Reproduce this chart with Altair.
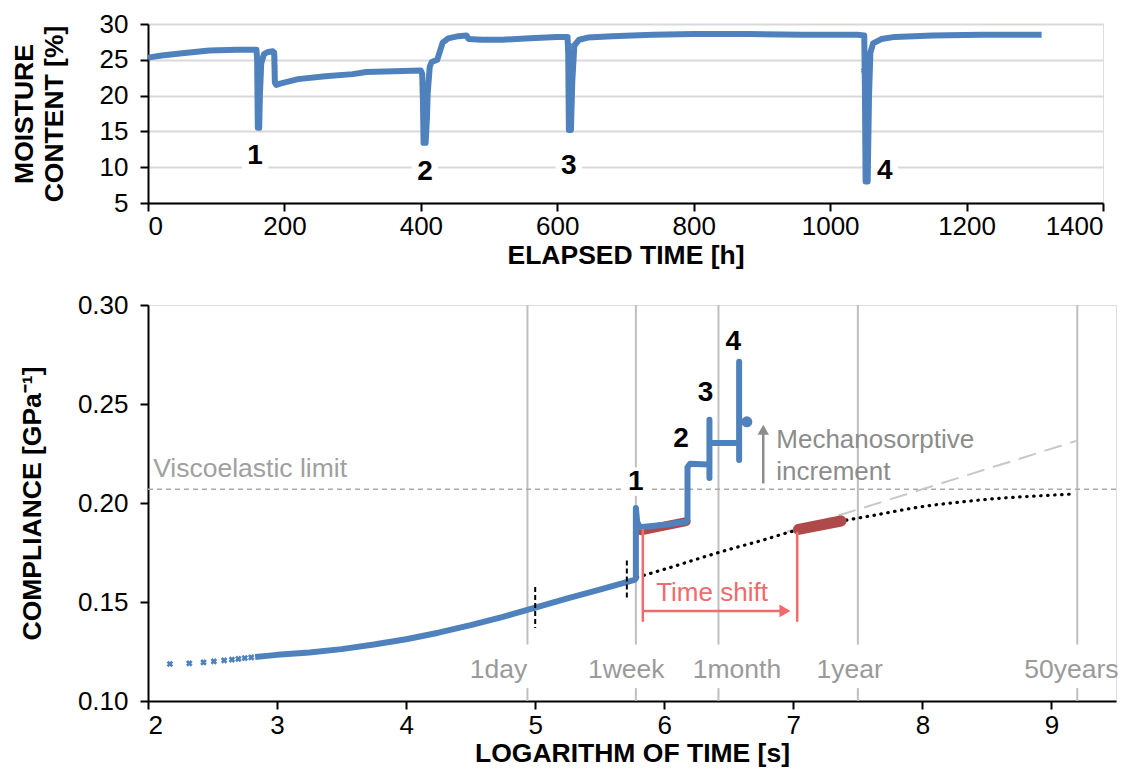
import altair as alt
import pandas as pd

FONT = "Liberation Sans"
BLUE = "#4F81BD"
RED = "#B0494A"
SALMON = "#F06B6B"
GRIDLINE = "#BFBFBF"
GRAYTEXT = "#9A9A9A"
ANNOT = "#8C8C8C"

# ---------------- top panel: moisture content ----------------
mc_hours = [0, 20, 50, 90, 130, 159, 160, 161, 163, 164, 166, 170, 176, 183, 185, 186, 188, 195,
            220, 260, 300, 320, 360, 400, 402, 403, 404, 407, 409, 410, 413, 416, 424, 428, 432,
            440, 455, 467, 470, 490, 520, 560, 600, 615, 616, 617, 620, 622, 625, 632, 645, 680,
            740, 800, 880, 960, 1040, 1050, 1051, 1052, 1055, 1057, 1059, 1063, 1075, 1095, 1150,
            1220, 1310]
mc_values = [25.3, 25.6, 25.9, 26.3, 26.4, 26.4, 25.0, 15.5, 15.5, 20.0, 24.5, 25.8, 26.1, 26.2,
             26.0, 21.8, 21.5, 21.7, 22.3, 22.7, 23.0, 23.3, 23.4, 23.5, 23.0, 19.5, 13.4, 13.4,
             17.0, 20.3, 24.0, 24.7, 25.0, 26.2, 27.4, 28.0, 28.3, 28.4, 27.9, 27.8, 27.8, 28.0,
             28.2, 28.2, 26.0, 15.2, 15.2, 22.0, 27.0, 27.8, 28.1, 28.3, 28.5, 28.6, 28.6, 28.5,
             28.5, 28.4, 20.5, 8.0, 8.0, 20.0, 26.0, 27.3, 27.9, 28.2, 28.4, 28.5, 28.5]
mc_cross_hours = [160, 186, 186, 186, 402, 402, 402, 408, 618, 618, 1049]
mc_cross_values = [25.3, 25.2, 24.0, 23.2, 22.8, 21.6, 20.6, 17.5, 27.0, 26.0, 23.5]
top_label_hours = [157, 406, 617, 1080]
top_label_values = [11.6, 9.3, 10.2, 9.5]
top_label_text = ["1", "2", "3", "4"]
hour_ticks = [0, 200, 400, 600, 800, 1000, 1200, 1400]
moist_ticks = [5, 10, 15, 20, 25, 30]

# ---------------- bottom panel: compliance ----------------
logt_cross = [2.17, 2.32, 2.43, 2.51, 2.59, 2.65, 2.70, 2.75, 2.80]
comp_cross = [0.1187, 0.1190, 0.1195, 0.1200, 0.1205, 0.1209, 0.1213, 0.1217, 0.1220]
logt_curve = [2.83, 3.0, 3.25, 3.5, 3.75, 4.0, 4.25, 4.5, 4.75, 5.0, 5.25, 5.5, 5.77, 5.78,
              5.78, 5.79, 5.81, 6.0, 6.17, 6.18, 6.18, 6.20, 6.34, 6.35, 6.35, 6.35, 6.35,
              6.58, 6.58, 6.58, 6.58, 6.63]
comp_curve = [0.1222, 0.1233, 0.1245, 0.1262, 0.1285, 0.1312, 0.1345, 0.1383, 0.1425, 0.1472,
              0.1518, 0.1562, 0.1612, 0.1620, 0.1975, 0.1905, 0.1878, 0.1890, 0.1905, 0.1915,
              0.2180, 0.2198, 0.2195, 0.2195, 0.2420, 0.2126, 0.2303, 0.2303, 0.2714, 0.2217,
              0.2410, 0.2410]
blob_logt = [6.64]
blob_comp = [0.2410]
model_logt = [5.79, 6.0, 6.28, 6.5, 6.75, 7.0, 7.2, 7.4, 7.6, 8.0, 8.3, 8.6, 8.9, 9.16]
model_comp = [0.1625, 0.1665, 0.1722, 0.1765, 0.1810, 0.1858, 0.1885, 0.1912, 0.1935, 0.1982,
              0.2005, 0.2024, 0.2036, 0.2045]
linear_logt = [6.95, 9.20]
linear_comp = [0.1855, 0.2315]
red1_logt = [5.82, 6.17]
red1_comp = [0.1860, 0.1906]
red2_logt = [7.04, 7.37]
red2_comp = [0.1867, 0.1909]
period_logt = [4.94, 5.78, 6.42, 7.50, 9.20]
period_names = ["1day", "1week", "1month", "1year", "50years"]
period_label_logt = [4.715, 5.705, 6.563, 7.437, 9.154]
visco_limit = 0.207
marker_logt = [5.0, 5.71]
marker_top = [0.1576, 0.1710]
marker_bottom = [0.1369, 0.1510]
shift_logt = [5.834, 7.03]
shift_top = [0.187, 0.1855]
shift_bottom = 0.140
shift_arrow_logt = [5.834, 6.95]
shift_arrow_comp = 0.1455
mech_logt = 6.767
mech_comp = [0.2099, 0.2370]
bottom_label_logt = [5.78, 6.13, 6.32, 6.535]
bottom_label_comp = [0.2108, 0.2325, 0.2556, 0.2815]
logt_ticks = [2, 3, 4, 5, 6, 7, 8, 9]
comp_ticks = [0.10, 0.15, 0.20, 0.25, 0.30]

AX = dict(domainColor="black", domainWidth=2, tickColor="black", tickWidth=2, tickSize=8,
          labelFont=FONT, labelFontSize=26, labelColor="black", titleFont=FONT,
          titleFontSize=26.5, titleFontWeight="bold", titleColor="black")

# ---------- top chart ----------
tx_axis = alt.Axis(values=hour_ticks, format="d", title="ELAPSED TIME [h]", grid=False,
                   labelPadding=2, titlePadding=3, **AX)
ty_axis = alt.Axis(values=moist_ticks, format="d", title=["MOISTURE", "CONTENT [%]"], grid=True,
                   gridColor="#D9D9D9", gridWidth=2, labelPadding=12, titleX=-110,
                   titleAngle=270, titleBaseline="bottom", titleLineHeight=30, **AX)
tx_scale = alt.Scale(domain=[0, 1400], nice=False, zero=False)
ty_scale = alt.Scale(domain=[5, 30], nice=False, zero=False)


def TX(f):
    return alt.X(f"{f}:Q", scale=tx_scale, axis=tx_axis)


def TY(f):
    return alt.Y(f"{f}:Q", scale=ty_scale, axis=ty_axis)


top_df = pd.DataFrame({"h": mc_hours, "v": mc_values, "i": list(range(len(mc_hours)))})
top_cross_df = pd.DataFrame({"h": mc_cross_hours, "v": mc_cross_values})
top_lbl_df = pd.DataFrame({"h": top_label_hours, "v": top_label_values, "t": top_label_text})

top_line = alt.Chart(top_df).mark_line(color=BLUE, strokeWidth=6, strokeJoin="round").encode(
    x=TX("h"), y=TY("v"), order="i:Q")
top_cross = alt.Chart(top_cross_df).mark_point(shape="cross", angle=45, filled=True, color=BLUE,
                                               size=30, opacity=1).encode(x=TX("h"), y=TY("v"))
top_box = alt.Chart(top_lbl_df).mark_point(shape="square", filled=True, color="white", size=700,
                                           opacity=1).encode(x=TX("h"), y=TY("v"))
top_txt = alt.Chart(top_lbl_df).mark_text(font=FONT, fontSize=28, fontWeight="bold",
                                          color="black").encode(x=TX("h"), y=TY("v"), text="t:N")
top = alt.layer(top_line, top_cross, top_box, top_txt).properties(width=955, height=179)

# ---------- bottom chart ----------
bx_axis = alt.Axis(values=logt_ticks, format="d", title="LOGARITHM OF TIME [s]", grid=False,
                   labelPadding=3, titlePadding=2, **AX)
by_axis = alt.Axis(values=comp_ticks, format=".2f", title="COMPLIANCE [GPa⁻¹]", grid=False,
                   labelPadding=12, titleX=-102, titleAngle=270, titleBaseline="bottom", **AX)
bx_scale = alt.Scale(domain=[2, 9.5], nice=False, zero=False)
by_scale = alt.Scale(domain=[0.10, 0.30], nice=False, zero=False)


def BX(f):
    return alt.X(f"{f}:Q", scale=bx_scale, axis=bx_axis)


def BY(f):
    return alt.Y(f"{f}:Q", scale=by_scale, axis=by_axis)


rules_df = pd.DataFrame({
    "x": period_logt * 2,
    "y": [0.30] * 5 + [0.1065] * 5,
    "y2": [0.1285] * 5 + [0.10] * 5,
})
period_lbl_df = pd.DataFrame({"x": period_label_logt, "y": [0.1157] * 5, "t": period_names})
visco_df = pd.DataFrame({"x": [2, 9.5], "y": [visco_limit, visco_limit]})
visco_txt_df = pd.DataFrame({"x": [2.04], "y": [0.2174], "t": ["Viscoelastic limit"]})
lin_df = pd.DataFrame({"x": linear_logt, "y": linear_comp})
model_df = pd.DataFrame({"x": model_logt, "y": model_comp})
red1_df = pd.DataFrame({"x": red1_logt, "y": red1_comp})
red2_df = pd.DataFrame({"x": red2_logt, "y": red2_comp})
cross_df = pd.DataFrame({"x": logt_cross, "y": comp_cross})
curve_df = pd.DataFrame({"x": logt_curve, "y": comp_curve, "i": list(range(len(logt_curve)))})
blob_df = pd.DataFrame({"x": blob_logt, "y": blob_comp})
marker_df = pd.DataFrame({"x": marker_logt, "y": marker_top, "y2": marker_bottom})
shift_df = pd.DataFrame({"x": shift_logt, "y": shift_top, "y2": [shift_bottom] * 2})
shift_arrow_df = pd.DataFrame({"x": [shift_arrow_logt[0]], "x2": [shift_arrow_logt[1]],
                               "y": [shift_arrow_comp]})
shift_head_df = pd.DataFrame({"x": [shift_arrow_logt[1] - 0.015], "y": [shift_arrow_comp]})
shift_txt_df = pd.DataFrame({"x": [6.37], "y": [0.1545], "t": ["Time shift"]})
mech_df = pd.DataFrame({"x": [mech_logt], "y": [mech_comp[0]], "y2": [mech_comp[1]]})
mech_head_df = pd.DataFrame({"x": [mech_logt], "y": [mech_comp[1]]})
mech_txt_df = pd.DataFrame({"x": [6.868, 6.868], "y": [0.2318, 0.2158],
                            "t": ["Mechanosorptive", "increment"]})
blbl_df = pd.DataFrame({"x": bottom_label_logt, "y": bottom_label_comp, "t": ["1", "2", "3", "4"]})

layers = [
    alt.Chart(rules_df).mark_rule(color=GRIDLINE, strokeWidth=2).encode(
        x=BX("x"), y=BY("y"), y2="y2"),
    alt.Chart(period_lbl_df).mark_text(font=FONT, fontSize=26.5, color=GRAYTEXT).encode(
        x=BX("x"), y=BY("y"), text="t:N"),
    alt.Chart(visco_df).mark_line(color="#AAAAAA", strokeWidth=1.5, strokeDash=[5, 4]).encode(
        x=BX("x"), y=BY("y")),
    alt.Chart(visco_txt_df).mark_text(font=FONT, fontSize=26.5, color="#A0A0A0",
                                      align="left").encode(x=BX("x"), y=BY("y"), text="t:N"),
    alt.Chart(blbl_df.head(1)).mark_point(shape="square", filled=True, color="white", size=800,
                                          opacity=1).encode(x=BX("x"), y=BY("y")),
    alt.Chart(lin_df).mark_line(color="#C8C8C8", strokeWidth=2, strokeDash=[18, 9]).encode(
        x=BX("x"), y=BY("y")),
    alt.Chart(model_df).mark_line(color="black", strokeWidth=3.2, strokeDash=[0.5, 6.5],
                                  strokeCap="round", interpolate="monotone").encode(
        x=BX("x"), y=BY("y")),
    alt.Chart(red1_df).mark_line(color=RED, strokeWidth=9, strokeCap="round").encode(
        x=BX("x"), y=BY("y")),
    alt.Chart(red2_df).mark_line(color=RED, strokeWidth=11, strokeCap="round").encode(
        x=BX("x"), y=BY("y")),
    alt.Chart(cross_df).mark_point(shape="cross", angle=45, filled=True, color=BLUE, size=45,
                                   opacity=1).encode(x=BX("x"), y=BY("y")),
    alt.Chart(curve_df).mark_line(color=BLUE, strokeWidth=6, strokeJoin="round").encode(
        x=BX("x"), y=BY("y"), order="i:Q"),
    alt.Chart(blob_df).mark_circle(color=BLUE, size=120, opacity=1).encode(x=BX("x"), y=BY("y")),
    alt.Chart(marker_df).mark_rule(color="black", strokeWidth=2, strokeDash=[5, 3]).encode(
        x=BX("x"), y=BY("y"), y2="y2"),
    alt.Chart(shift_df).mark_rule(color=SALMON, strokeWidth=2.5).encode(
        x=BX("x"), y=BY("y"), y2="y2"),
    alt.Chart(shift_arrow_df).mark_rule(color=SALMON, strokeWidth=2.5).encode(
        x=BX("x"), x2="x2", y=BY("y")),
    alt.Chart(shift_head_df).mark_point(shape="triangle-right", filled=True, color=SALMON,
                                        size=160, opacity=1).encode(x=BX("x"), y=BY("y")),
    alt.Chart(shift_txt_df).mark_text(font=FONT, fontSize=26, color=SALMON).encode(
        x=BX("x"), y=BY("y"), text="t:N"),
    alt.Chart(mech_df).mark_rule(color=ANNOT, strokeWidth=2.5).encode(
        x=BX("x"), y=BY("y"), y2="y2"),
    alt.Chart(mech_head_df).mark_point(shape="triangle-up", filled=True, color=ANNOT,
                                       size=130, opacity=1).encode(x=BX("x"), y=BY("y")),
    alt.Chart(mech_txt_df).mark_text(font=FONT, fontSize=26, color=ANNOT, align="left").encode(
        x=BX("x"), y=BY("y"), text="t:N"),
    alt.Chart(blbl_df).mark_text(font=FONT, fontSize=28, fontWeight="bold", color="black").encode(
        x=BX("x"), y=BY("y"), text="t:N"),
]
bottom = alt.layer(*layers).properties(width=968, height=396)

chart = alt.vconcat(top, bottom, spacing=22).properties(
    padding={"left": 2, "top": 2, "right": 5, "bottom": 5}
).configure_view(stroke=None).configure(font=FONT)

chart.save("out.html", embed_options={"renderer": "svg", "actions": False})
